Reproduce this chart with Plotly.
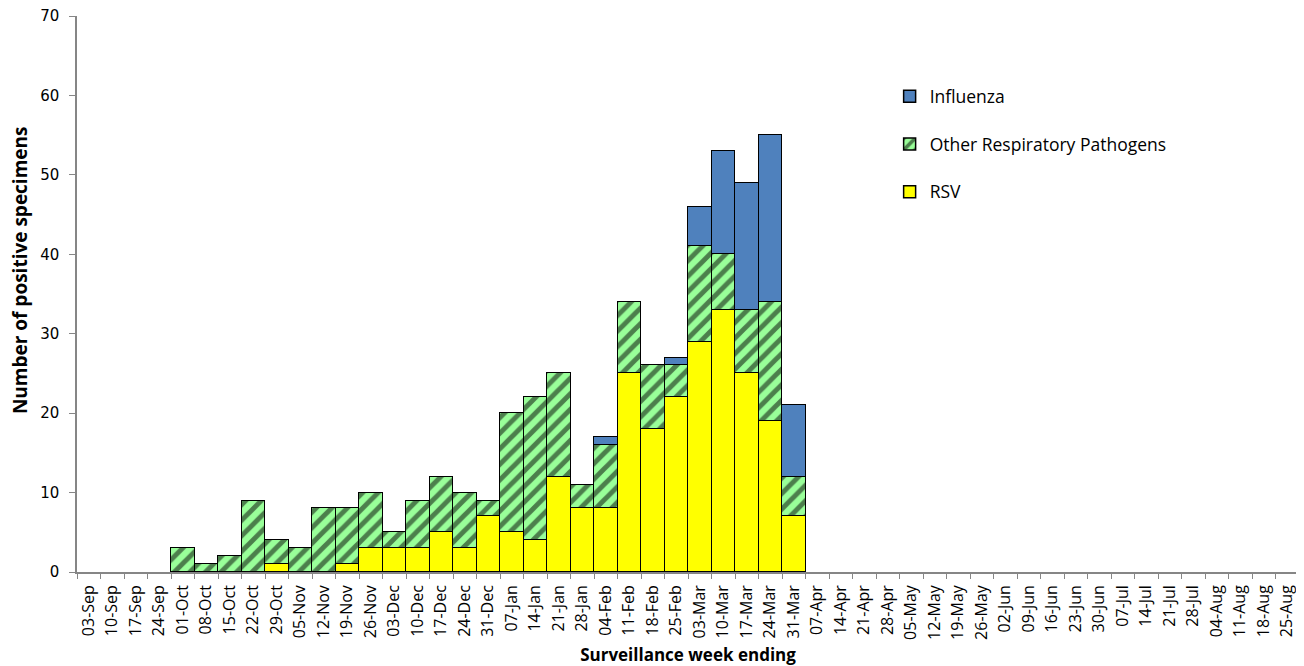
import plotly.graph_objects as go

weeks = ["03-Sep","10-Sep","17-Sep","24-Sep","01-Oct","08-Oct","15-Oct","22-Oct","29-Oct",
         "05-Nov","12-Nov","19-Nov","26-Nov","03-Dec","10-Dec","17-Dec","24-Dec","31-Dec",
         "07-Jan","14-Jan","21-Jan","28-Jan","04-Feb","11-Feb","18-Feb","25-Feb",
         "03-Mar","10-Mar","17-Mar","24-Mar","31-Mar","07-Apr","14-Apr","21-Apr","28-Apr",
         "05-May","12-May","19-May","26-May","02-Jun","09-Jun","16-Jun","23-Jun","30-Jun",
         "07-Jul","14-Jul","21-Jul","28-Jul","04-Aug","11-Aug","18-Aug","25-Aug"]

rsv = [0,0,0,0,0,0,0,0,1,0,0,1,3,3,3,5,3,7,5,4,12,8,8,25,18,22,29,33,25,19,7]
other = [0,0,0,0,3,1,2,9,3,3,8,7,7,2,6,7,7,2,15,18,13,3,8,9,8,4,12,7,8,15,5]
influenza = [0,0,0,0,0,0,0,0,0,0,0,0,0,0,0,0,0,0,0,0,0,0,1,0,0,1,5,13,16,21,9]

def pad(v):
    v = list(v) + [0] * (len(weeks) - len(v))
    return [x if x else None for x in v]

FONT = "Open Sans, sans-serif"

fig = go.Figure()
fig.add_trace(go.Bar(x=weeks, y=pad(rsv), name="RSV", legendgroup="c", legendrank=3,
                     marker=dict(color="#FFFF00", line=dict(color="black", width=1.5))))
fig.add_trace(go.Bar(x=weeks, y=pad(other), name="Other Respiratory Pathogens", legendgroup="b", legendrank=2,
                     marker=dict(color="#99FF99", line=dict(color="black", width=1.5),
                                 pattern=dict(shape="/", fgcolor="black", bgcolor="#99FF99",
                                              size=11, solidity=0.45, fillmode="overlay"))))
fig.add_trace(go.Bar(x=weeks, y=pad(influenza), name="Influenza", legendgroup="a", legendrank=1,
                     marker=dict(color="#4F81BD", line=dict(color="black", width=1.5))))

fig.update_layout(
    barmode="stack", bargap=0,
    width=1296, height=658,
    margin=dict(l=69, r=5, t=8, b=94, autoexpand=False),
    plot_bgcolor="white", paper_bgcolor="white",
    font=dict(family=FONT, color="black"),
    legend=dict(x=0.665, y=0.888, xanchor="left", yanchor="top",
                traceorder="grouped", tracegroupgap=22,
                font=dict(family=FONT, size=17.5, color="black"),
                itemwidth=30),
    showlegend=True,
    annotations=[dict(text="<b>Number of positive specimens</b>", textangle=-90,
                      xref="paper", yref="paper", x=0, y=0.543, xshift=-57,
                      xanchor="center", yanchor="middle", showarrow=False,
                      font=dict(size=19, family=FONT, color="black"))],
)
fig.update_xaxes(
    type="category", tickangle=-90, tickson="boundaries", automargin=False,
    ticks="outside", ticklen=5, tickcolor="#868686",
    showline=True, linecolor="#868686", linewidth=1.5, showgrid=False,
    tickfont=dict(family=FONT, size=16, color="black"), ticklabelstandoff=5,
    title=dict(text="<b>Surveillance week ending</b>", font=dict(size=17, family=FONT), standoff=16),
)
fig.update_yaxes(
    range=[0, 70], tickvals=[0, 10, 20, 30, 40, 50, 60, 70], ticks="outside", ticklen=6,
    tickcolor="#868686", automargin=False, ticklabeloverflow="allow",
    showline=True, linecolor="#868686", linewidth=1.5, showgrid=False, zeroline=False,
    tickfont=dict(family="DejaVu Sans, sans-serif", size=15, color="black"),
    ticklabelstandoff=7,
)

fig.write_html("out.html")
